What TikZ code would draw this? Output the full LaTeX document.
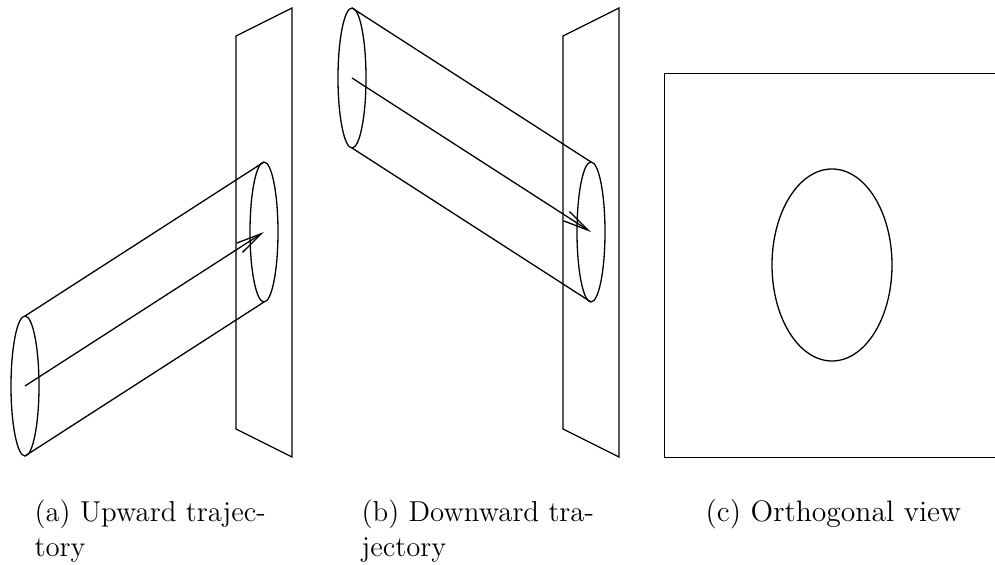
\documentclass[tikz,border=0pt]{standalone}
\usepackage{tikz}
\usetikzlibrary{arrows.meta}
\tikzset{
  trajectory/.style={-{Straight Barb[length=13pt,width=5.5pt,line width=0.65pt]}},
  caption/.style={anchor=base west,inner sep=0pt,align=left,font=\fontsize{14.4}{17.5}\selectfont},
}

\begin{document}
\begin{tikzpicture}[x=0.5pt, y=-0.5pt, line width=0.65pt]
  \useasboundingbox (0,0) rectangle (995,565);
  % upward
  \coordinate (p1) at (236, 36);
  \coordinate (p2) at (292, 8);
  \coordinate (p3) at (292, 457);
  \coordinate (p4) at (236, 429);
  \coordinate (c1) at (25, 386);
  \coordinate (c2) at (264, 232);
  \coordinate (t1) at (25, 316);
  \coordinate (t2) at (264, 162);
  \coordinate (b1) at (25, 456);
  \coordinate (b2) at (264, 302);
  \draw (p1) -- (p2) -- (p3) -- (p4) -- cycle;
  \draw (c1) ellipse [x radius=14, y radius=70];
  \draw (c2) ellipse [x radius=14, y radius=70];
  \draw (t1) -- (t2);
  \draw (b1) -- (b2);
  \draw[trajectory] (c1) -- (c2);
  % downward
  \coordinate (q1) at (563, 36);
  \coordinate (q2) at (619, 8);
  \coordinate (q3) at (619, 457);
  \coordinate (q4) at (563, 429);
  \coordinate (d1) at (352, 78);
  \coordinate (d2) at (591, 232);
  \coordinate (u1) at (352, 8);
  \coordinate (u2) at (591, 162);
  \coordinate (l1) at (352, 148);
  \coordinate (l2) at (591, 302);
  \draw (q1) -- (q2) -- (q3) -- (q4) -- cycle;
  \draw (d1) ellipse [x radius=14, y radius=70];
  \draw (d2) ellipse [x radius=14, y radius=70];
  \draw (u1) -- (u2);
  \draw (l1) -- (l2);
  \draw[trajectory] (d1) -- (d2);
  % orthogonal
  \coordinate (r1) at (995, 73.5);
  \coordinate (r2) at (664.5, 73.5);
  \coordinate (r3) at (664.5, 457.5);
  \coordinate (r4) at (995, 457.5);
  \coordinate (e1) at (832, 265);
  \draw (r1) -- (r2) -- (r3) -- (r4);
  \draw (e1) ellipse [x radius=60, y radius=96];
  % captions
  \node[caption] (capa) at (34, 557) {(a) Upward trajec-\\tory};
  \node[caption] (capb) at (361, 557) {(b) Downward tra-\\jectory};
  \node[caption, font=\fontsize{14.8}{18}\selectfont] (capc) at (705, 522) {(c) Orthogonal view};
\end{tikzpicture}
\end{document}
